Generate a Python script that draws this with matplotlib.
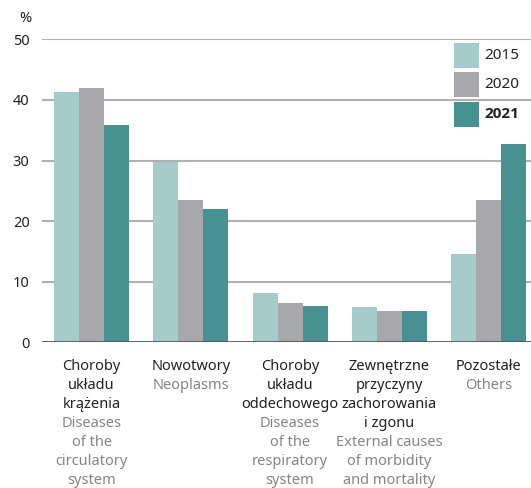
import matplotlib
matplotlib.use("Agg")
import matplotlib.pyplot as plt
from matplotlib.patches import Rectangle
import numpy as np

plt.rcParams['font.family'] = ['Noto Sans', 'DejaVu Sans']

years = ['2015', '2020', '2021']
colors = ['#a5cbcb', '#a8a8ac', '#489192']

pl_labels = [
    ['Choroby', 'układu', 'krążenia'],
    ['Nowotwory'],
    ['Choroby', 'układu', 'oddechowego'],
    ['Zewnętrzne', 'przyczyny', 'zachorowania', 'i zgonu'],
    ['Pozostałe'],
]
en_labels = [
    ['Diseases', 'of the', 'circulatory', 'system'],
    ['Neoplasms'],
    ['Diseases', 'of the', 'respiratory', 'system'],
    ['External causes', 'of morbidity', 'and mortality'],
    ['Others'],
]

v2015 = [41.3, 29.8, 8.1, 5.8, 14.5]
v2020 = [42.0, 23.5, 6.5, 5.1, 23.5]
v2021 = [35.9, 22.0, 6.0, 5.1, 32.7]
yticks = [0, 10, 20, 30, 40, 50]

W, H = 531, 488
fig = plt.figure(figsize=(W / 100, H / 100), dpi=100, facecolor='white')
ax = fig.add_axes([42 / W, 1 - 342.3 / H, 1 - 42 / W, 303 / H])

x = np.arange(len(pl_labels))
w = 0.252
for i, vals in enumerate([v2015, v2020, v2021]):
    ax.bar(x + (i - 1) * w, vals, width=w, color=colors[i], zorder=3, linewidth=0)

ax.set_xlim(-0.5, 4.427)
ax.set_ylim(0, 50)
ax.set_yticks(yticks)
ax.set_yticklabels([str(t) for t in yticks], fontsize=10.5, color='#222222')
ax.tick_params(axis='y', length=0, pad=9)
ax.tick_params(axis='x', length=0, labelbottom=False)
for t in yticks[1:]:
    ax.axhline(t, color='#b0b0b0', lw=1.5, zorder=1)
ax.axhline(0, color='#555555', lw=2, zorder=4)
for s in ax.spines.values():
    s.set_visible(False)

ax.annotate('%', xy=(0, 1), xycoords='axes fraction', xytext=(-17, 17),
            textcoords='offset pixels', ha='center', va='baseline',
            fontsize=10.5, color='#222222')

# two-language category labels under the axis
line_h = 19.05
for i in range(len(pl_labels)):
    lines = [(s, '#222222') for s in pl_labels[i]] + [(s, '#858585') for s in en_labels[i]]
    for j, (s, c) in enumerate(lines):
        ax.annotate(s, xy=(x[i], 0), xycoords=('data', 'axes fraction'),
                    xytext=(0, -27.7 - j * line_h), textcoords='offset pixels',
                    ha='center', va='baseline', fontsize=10.5, color=c)

# legend: colour boxes with year labels, top right
box_w, box_h, step = 25, 25, 29.5
for i, (yr, c) in enumerate(zip(years, colors)):
    top = 42.7 + i * step
    fig.patches.append(Rectangle((454 / W, 1 - (top + box_h) / H), box_w / W, box_h / H,
                                 transform=fig.transFigure, facecolor=c,
                                 edgecolor='none', zorder=5))
    last = i == len(years) - 1
    fig.text(484 / W, 1 - (top + box_h / 2) / H, yr, ha='left', va='center',
             fontsize=11, color='#222222',
             family=['Open Sans', 'DejaVu Sans'] if last else None,
             fontweight='bold' if last else 'normal')

fig.savefig('out.png', dpi=100, facecolor='white')
